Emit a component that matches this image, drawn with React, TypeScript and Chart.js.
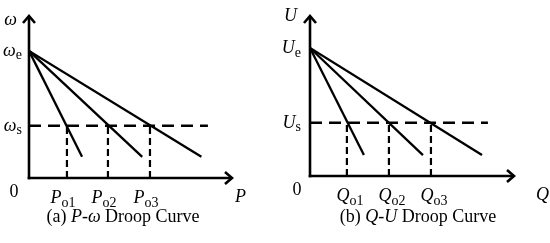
import React, { useEffect, useRef } from "react";
import { Chart, registerables } from "chart.js";

Chart.register(...registerables);

// ---------- (a) P-ω droop curve ----------
const PW_REF_OMEGA = 7.8; // ωe
const PW_SET_OMEGA = 3.2; // ωs
const PW_LINE_END_OMEGA = 1.3;
const PW_P_OPERATING = [1.86, 3.87, 5.93]; // Po1, Po2, Po3
const PW_P_LINE_END = [2.6, 5.55, 8.45];
const PW_SET_LINE_END_P = 8.77;
const PW_OP_SUBS = ["o1", "o2", "o3"];

// ---------- (b) Q-U droop curve ----------
const QU_REF_U = 7.95; // Ue
const QU_SET_U = 3.3; // Us
const QU_LINE_END_U = 1.3;
const QU_Q_OPERATING = [1.8, 3.85, 5.9]; // Qo1, Qo2, Qo3
const QU_Q_LINE_END = [2.63, 5.51, 8.39];
const QU_SET_LINE_END_Q = 8.68;
const QU_OP_SUBS = ["o1", "o2", "o3"];

type Seg = { t: string; italic?: boolean; sub?: boolean };

const FONT_FAMILY = '"Liberation Serif", "Times New Roman", serif';

function drawRich(
  ctx: CanvasRenderingContext2D,
  segs: Seg[],
  x: number,
  y: number,
  align: "left" | "center" | "right",
  size: number
) {
  const fontFor = (s: Seg) =>
    `${s.italic ? "italic " : ""}${s.sub ? Math.round(size * 0.75) : size}px ${FONT_FAMILY}`;
  const widths = segs.map((s) => {
    ctx.font = fontFor(s);
    return ctx.measureText(s.t).width;
  });
  const total = widths.reduce((a, b) => a + b, 0);
  let cx = align === "left" ? x : align === "center" ? x - total / 2 : x - total;
  ctx.textAlign = "left";
  ctx.textBaseline = "alphabetic";
  segs.forEach((s, i) => {
    ctx.font = fontFor(s);
    ctx.fillText(s.t, cx, y + (s.sub ? size * 0.2 : 0));
    cx += widths[i];
  });
}

interface PanelSpec {
  ref: number;
  set: number;
  endY: number;
  ops: number[];
  ends: number[];
  setEnd: number;
  opSubs: string[];
  yName: string;
  xName: string;
  caption: Seg[];
  captionX: number;
  padding: { left: number; right: number; top: number; bottom: number };
  opShift: number;
  xNameDx: number;
  yNameRight: number;
  yNameBase: number;
  levelLabelRight: number;
  zeroX: number;
}

function buildDatasets(s: PanelSpec) {
  const base = {
    borderColor: "#000",
    pointRadius: 0,
    fill: false,
    tension: 0,
    borderCapStyle: "butt" as const,
  };
  const droop = s.ends.map((e) => ({
    ...base,
    borderWidth: 2.3,
    data: [
      { x: 0, y: s.ref },
      { x: e, y: s.endY },
    ],
  }));
  const setLine = {
    ...base,
    borderWidth: 2.5,
    borderDash: [12, 7],
    data: [
      { x: 0, y: s.set },
      { x: s.setEnd, y: s.set },
    ],
  };
  const verticals = s.ops.map((o) => ({
    ...base,
    borderWidth: 2.2,
    borderDash: [7, 4],
    data: [
      { x: o, y: 0 },
      { x: o, y: s.set },
    ],
  }));
  return [...droop, setLine, ...verticals];
}

function makeChart(canvas: HTMLCanvasElement, s: PanelSpec) {
  const plugin = {
    id: "diagram",
    afterDatasetsDraw(chart: any) {
      const { ctx, chartArea: a, scales } = chart;
      const xs = scales.x;
      const ys = scales.y;
      const x0 = xs.getPixelForValue(0);
      const y0 = ys.getPixelForValue(0);
      ctx.save();
      ctx.strokeStyle = "#000";
      ctx.fillStyle = "#000";
      ctx.lineWidth = 2.6;
      ctx.lineCap = "butt";
      ctx.lineJoin = "miter";
      // y axis
      ctx.beginPath();
      ctx.moveTo(x0, y0 + 1.3);
      ctx.lineTo(x0, a.top + 1);
      ctx.stroke();
      ctx.beginPath();
      ctx.moveTo(x0 - 6, a.top + 8);
      ctx.lineTo(x0, a.top + 1);
      ctx.lineTo(x0 + 6, a.top + 8);
      ctx.stroke();
      // x axis
      ctx.beginPath();
      ctx.moveTo(x0 - 1.3, y0);
      ctx.lineTo(a.right - 1, y0);
      ctx.stroke();
      ctx.beginPath();
      ctx.moveTo(a.right - 8, y0 - 6);
      ctx.lineTo(a.right - 1, y0);
      ctx.lineTo(a.right - 8, y0 + 6);
      ctx.stroke();

      const size = 18;
      // axis names
      drawRich(ctx, [{ t: s.yName, italic: true }], s.yNameRight, s.yNameBase, "right", size);
      drawRich(ctx, [{ t: s.xName, italic: true }], a.right + s.xNameDx, y0 + 24, "left", size);
      // origin
      drawRich(ctx, [{ t: "0" }], s.zeroX, y0 + 19, "center", size);
      // levels
      const pyRef = ys.getPixelForValue(s.ref);
      const pySet = ys.getPixelForValue(s.set);
      drawRich(
        ctx,
        [
          { t: s.yName, italic: true },
          { t: "e", sub: true },
        ],
        s.levelLabelRight,
        pyRef + 5,
        "right",
        size
      );
      drawRich(
        ctx,
        [
          { t: s.yName, italic: true },
          { t: "s", sub: true },
        ],
        s.levelLabelRight,
        pySet + 5,
        "right",
        size
      );
      // operating points
      s.ops.forEach((o, i) => {
        const px = xs.getPixelForValue(o);
        drawRich(
          ctx,
          [
            { t: s.xName, italic: true },
            { t: s.opSubs[i], sub: true },
          ],
          px + s.opShift,
          y0 + 25,
          "center",
          size
        );
      });
      // caption
      drawRich(ctx, s.caption, s.captionX, 222, "center", 18);
      ctx.restore();
    },
  };

  return new Chart(canvas, {
    type: "line",
    data: { datasets: buildDatasets(s) as any },
    options: {
      responsive: false,
      animation: false,
      devicePixelRatio: 1,
      layout: { padding: s.padding },
      plugins: {
        legend: { display: false },
        tooltip: { enabled: false },
      },
      scales: {
        x: { type: "linear", min: 0, max: 10, display: false },
        y: { type: "linear", min: 0, max: 10, display: false },
      },
    },
    plugins: [plugin as any],
  });
}

const panelA: PanelSpec = {
  ref: PW_REF_OMEGA,
  set: PW_SET_OMEGA,
  endY: PW_LINE_END_OMEGA,
  ops: PW_P_OPERATING,
  ends: PW_P_LINE_END,
  setEnd: PW_SET_LINE_END_P,
  opSubs: PW_OP_SUBS,
  yName: "ω",
  xName: "P",
  caption: [
    { t: "(a) " },
    { t: "P", italic: true },
    { t: "-" },
    { t: "ω", italic: true },
    { t: " Droop Curve" },
  ],
  captionX: 123,
  padding: { left: 29, right: 42, top: 15, bottom: 65 },
  opShift: -4,
  xNameDx: 2,
  yNameRight: 17,
  yNameBase: 25,
  levelLabelRight: 22,
  zeroX: 14,
};

const panelB: PanelSpec = {
  ref: QU_REF_U,
  set: QU_SET_U,
  endY: QU_LINE_END_U,
  ops: QU_Q_OPERATING,
  ends: QU_Q_LINE_END,
  setEnd: QU_SET_LINE_END_Q,
  opSubs: QU_OP_SUBS,
  yName: "U",
  xName: "Q",
  caption: [
    { t: "(b) " },
    { t: "Q", italic: true },
    { t: "-" },
    { t: "U", italic: true },
    { t: " Droop Curve" },
  ],
  captionX: 143,
  padding: { left: 35, right: 35, top: 15, bottom: 67 },
  opShift: 3,
  xNameDx: 21,
  yNameRight: 22,
  yNameBase: 21,
  levelLabelRight: 26,
  zeroX: 22,
};

function Panel({ spec }: { spec: PanelSpec }) {
  const ref = useRef<HTMLCanvasElement | null>(null);
  useEffect(() => {
    if (!ref.current) return;
    const chart = makeChart(ref.current, spec);
    return () => chart.destroy();
  }, [spec]);
  return <canvas ref={ref} width={275} height={243} style={{ display: "block", width: 275, height: 243 }} />;
}

export default function App() {
  return (
    <div
      style={{
        position: "absolute",
        left: 0,
        top: 0,
        width: 550,
        height: 243,
        display: "flex",
        background: "#fff",
      }}
    >
      <Panel spec={panelA} />
      <Panel spec={panelB} />
    </div>
  );
}
